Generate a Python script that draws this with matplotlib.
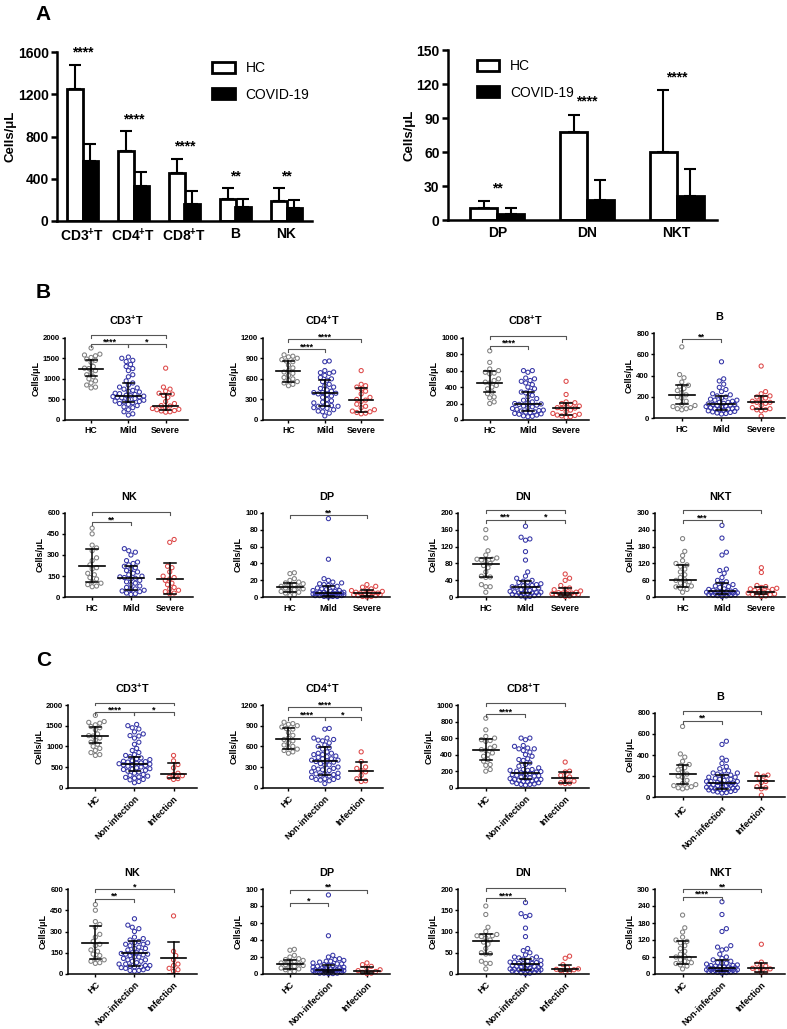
import numpy as np
import matplotlib
matplotlib.use("Agg")
import matplotlib.pyplot as plt
from matplotlib.patches import Patch

plt.rcParams['font.family'] = ['Liberation Sans', 'DejaVu Sans']
plt.rcParams['font.weight'] = 'bold'
plt.rcParams['axes.labelweight'] = 'bold'
plt.rcParams['axes.titleweight'] = 'bold'
plt.rcParams['mathtext.fontset'] = 'custom'
plt.rcParams['mathtext.rm'] = 'Liberation Sans:bold'
plt.rcParams['mathtext.default'] = 'rm'

# ---------------- panel A data (mean, SD) ----------------
a_cells = ['CD3$^{+}$T', 'CD4$^{+}$T', 'CD8$^{+}$T', 'B', 'NK']
a_hc_mean = [1250, 660, 450, 210, 190]
a_hc_sd = [230, 190, 140, 100, 125]
a_cov_mean = [565, 335, 165, 130, 120]
a_cov_sd = [160, 130, 120, 80, 75]
a_stars = ['****', '****', '****', '**', '**']

a2_cells = ['DP', 'DN', 'NKT']
a2_hc_mean = [11, 78, 60]
a2_hc_sd = [6, 15, 55]
a2_cov_mean = [5, 17.5, 21]
a2_cov_sd = [5.5, 17.5, 24]
a2_stars = ['**', '****', '****']

# ---------------- panels B / C data ----------------
cell_types = ['CD3', 'CD4', 'CD8', 'B', 'NK', 'DP', 'DN', 'NKT']
titles = ['CD3$^{+}$T', 'CD4$^{+}$T', 'CD8$^{+}$T', 'B', 'NK', 'DP', 'DN', 'NKT']
b_groups = ['HC', 'Mild', 'Severe']
c_groups = ['HC', 'Non-infection', 'Infection']
b_ymax = [2000, 1200, 1000, 800, 600, 100, 200, 300]
b_ystep = [500, 300, 200, 200, 150, 20, 40, 60]
c_ymax = [2000, 1200, 1000, 800, 600, 100, 200, 300]
c_ystep = [500, 300, 200, 200, 150, 20, 50, 60]

hc = {
    'CD3': [1750, 1600, 1580, 1560, 1520, 1480, 1450, 1400, 1300, 1260, 1250, 1200,
            1150, 1100, 1050, 1000, 950, 900, 850, 800, 780],
    'CD4': [950, 930, 920, 900, 880, 860, 850, 800, 760, 720, 700, 680, 650, 620,
            600, 580, 560, 540, 520, 500],
    'CD8': [840, 700, 620, 600, 580, 570, 560, 500, 480, 460, 450, 420, 400, 380,
            340, 320, 280, 270, 220, 200],
    'B': [670, 410, 380, 340, 310, 300, 280, 260, 240, 220, 200, 190, 160, 130, 120,
          110, 100, 90, 90, 80],
    'NK': [490, 450, 370, 350, 330, 280, 260, 230, 210, 200, 170, 160, 140, 130, 110,
           100, 90, 80, 75],
    'DP': [29, 28, 22, 20, 18, 17, 16, 15, 14, 13, 12, 11, 10, 9, 8, 7, 6, 5, 3, 2],
    'DN': [160, 140, 110, 100, 93, 90, 90, 88, 85, 80, 75, 70, 60, 50, 48, 47, 30,
           25, 25, 12],
    'NKT': [208, 163, 148, 130, 120, 115, 110, 100, 90, 80, 70, 62, 60, 55, 50, 45,
            40, 37, 32, 28, 18],
}
mild = {
    'CD3': [1530, 1500, 1450, 1420, 1350, 1300, 1250, 1200, 1100, 1050, 950, 900, 850,
            800, 780, 750, 720, 700, 680, 650, 640, 620, 600, 590, 580, 570, 560, 550,
            540, 520, 500, 480, 460, 450, 440, 420, 400, 380, 350, 320, 300, 250, 200,
            150, 120],
    'CD4': [860, 850, 720, 700, 690, 680, 650, 620, 600, 580, 560, 520, 500, 480, 460,
            440, 420, 400, 400, 390, 380, 370, 350, 330, 300, 280, 260, 250, 230, 210,
            200, 200, 190, 180, 170, 150, 130, 120, 100, 60],
    'CD8': [600, 600, 580, 510, 500, 480, 470, 450, 430, 400, 380, 350, 340, 330, 300,
            280, 260, 240, 220, 210, 200, 195, 190, 180, 170, 160, 150, 140, 130, 120,
            115, 110, 100, 95, 90, 80, 75, 70, 60, 50, 45, 40],
    'B': [530, 370, 350, 320, 290, 270, 250, 230, 220, 210, 200, 190, 180, 170, 170,
          160, 150, 150, 140, 135, 130, 130, 125, 120, 115, 110, 110, 100, 95, 90, 90,
          85, 80, 75, 70, 65, 60, 55, 50, 45, 40],
    'NK': [345, 330, 320, 300, 260, 250, 240, 230, 220, 210, 200, 190, 180, 170, 160,
           150, 145, 140, 135, 130, 120, 110, 100, 90, 80, 70, 60, 55, 50, 45, 40, 30,
           25, 20],
    'DP': [93, 45, 22, 20, 18, 17, 16, 15, 14, 13, 12, 11, 10, 9, 8, 8, 7, 7, 6, 6, 6,
           5, 5, 5, 5, 4, 4, 4, 4, 3, 3, 3, 3, 2, 2, 2, 2, 1, 1, 1, 0.5],
    'DN': [168, 142, 138, 135, 108, 88, 60, 50, 45, 40, 38, 36, 35, 32, 30, 28, 27, 25,
           25, 24, 22, 20, 18, 16, 15, 14, 13, 12, 11, 10, 10, 9, 8, 7, 6, 5, 4, 3, 2, 1],
    'NKT': [255, 210, 160, 150, 100, 95, 85, 70, 60, 55, 50, 45, 40, 38, 35, 30, 28, 25,
            24, 22, 22, 20, 20, 18, 17, 16, 15, 14, 13, 12, 12, 10, 9, 8, 7, 6, 5, 3],
}
severe = {
    'CD3': [1260, 800, 750, 700, 650, 630, 600, 550, 450, 400, 350, 340, 300, 280, 260,
            250, 230, 220, 200, 190],
    'CD4': [720, 520, 500, 480, 450, 420, 380, 330, 300, 290, 270, 230, 200, 180, 150,
            130, 120, 110, 100, 90],
    'CD8': [470, 310, 220, 210, 200, 190, 170, 160, 150, 145, 140, 120, 100, 80, 70, 60,
            55, 50, 40, 30],
    'B': [490, 250, 230, 210, 200, 190, 180, 160, 150, 150, 140, 120, 100, 90, 80, 80,
          70, 20],
    'NK': [410, 390, 220, 210, 180, 150, 140, 130, 120, 100, 90, 70, 60, 50, 40, 30, 25],
    'DP': [15, 13, 12, 10, 9, 8, 7, 6, 5, 5, 5, 4, 4, 3, 3, 2, 2, 1, 1, 0.5],
    'DN': [55, 45, 40, 28, 22, 20, 18, 15, 12, 11, 10, 10, 9, 8, 7, 6, 5, 4, 3, 2],
    'NKT': [105, 88, 42, 38, 35, 32, 30, 28, 25, 22, 20, 18, 15, 12, 10, 9, 8, 5, 3],
}
noninf = {
    'CD3': [1530, 1500, 1450, 1420, 1350, 1300, 1260, 1250, 1200, 1100, 1050, 950, 900,
            850, 800, 780, 750, 720, 700, 680, 650, 640, 630, 620, 600, 590, 580, 570,
            560, 550, 540, 520, 500, 480, 460, 450, 440, 420, 400, 380, 350, 320, 300,
            280, 260, 250, 230, 200, 190, 150, 120],
    'CD4': [860, 850, 720, 720, 700, 690, 680, 650, 620, 600, 580, 560, 520, 500, 500,
            480, 480, 460, 450, 440, 420, 420, 400, 400, 390, 380, 370, 350, 330, 330,
            300, 290, 280, 270, 260, 250, 230, 210, 200, 200, 190, 180, 170, 150, 150,
            130, 120, 120, 110, 100, 60],
    'CD8': [600, 600, 580, 510, 500, 480, 470, 470, 450, 430, 400, 380, 350, 340, 330,
            300, 280, 260, 240, 220, 220, 210, 210, 200, 195, 190, 180, 170, 170, 160,
            150, 145, 140, 130, 120, 115, 110, 100, 100, 95, 90, 80, 75, 70, 70, 60, 50,
            45, 40, 40, 30],
    'B': [530, 500, 370, 350, 320, 290, 270, 250, 250, 230, 230, 220, 210, 210, 200,
          190, 190, 180, 170, 170, 160, 150, 150, 150, 140, 135, 130, 130, 125, 120, 120,
          115, 110, 110, 100, 95, 90, 90, 85, 80, 80, 75, 70, 70, 65, 60, 55, 50, 45, 40],
    'NK': [390, 345, 330, 320, 300, 260, 250, 240, 230, 220, 220, 210, 210, 200, 190,
           180, 180, 170, 160, 150, 150, 145, 140, 140, 135, 130, 120, 120, 110, 100,
           100, 90, 90, 80, 70, 70, 60, 60, 55, 50, 50, 45, 40, 40, 30, 25, 25, 20],
    'DP': [93, 45, 22, 20, 18, 17, 16, 15, 15, 14, 13, 12, 12, 11, 10, 10, 9, 8, 8, 7,
           7, 6, 6, 6, 5, 5, 5, 5, 5, 4, 4, 4, 4, 3, 3, 3, 3, 2, 2, 2, 2, 1, 1, 1, 0.5,
           0.5],
    'DN': [168, 142, 138, 135, 108, 88, 60, 55, 50, 45, 40, 40, 38, 36, 35, 32, 30, 28,
           28, 27, 25, 25, 24, 22, 20, 20, 18, 18, 16, 15, 14, 13, 12, 11, 10, 10, 10, 9,
           9, 8, 7, 6, 5, 4, 3, 2, 1],
    'NKT': [255, 210, 160, 150, 100, 95, 88, 85, 70, 60, 55, 50, 45, 40, 38, 38, 35, 32,
            30, 30, 28, 25, 25, 24, 22, 22, 20, 20, 18, 17, 16, 15, 15, 14, 13, 12, 12,
            10, 10, 9, 9, 8, 7, 6, 5, 3],
}
infection = {
    'CD3': [780, 650, 560, 480, 350, 320, 290, 250, 220, 200],
    'CD4': [520, 380, 300, 280, 250, 230, 180, 130, 100, 90],
    'CD8': [310, 200, 190, 150, 130, 110, 80, 60, 55, 50],
    'B': [220, 210, 200, 180, 150, 140, 100, 90, 80, 20],
    'NK': [410, 160, 130, 100, 70, 60, 40, 30, 20],
    'DP': [13, 11, 9, 7, 5, 4, 3, 2, 1, 0.5],
    'DN': [42, 37, 22, 15, 12, 11, 10, 8, 6, 5],
    'NKT': [105, 42, 35, 28, 22, 20, 18, 12, 8, 5],
}

# median, Q1, Q3
hc_stats = {'CD3': (1250, 1070, 1470), 'CD4': (710, 560, 860), 'CD8': (455, 340, 590),
            'B': (220, 130, 310), 'NK': (222, 105, 340), 'DP': (12, 6, 17),
            'DN': (78, 47, 93), 'NKT': (60, 37, 115)}
mild_stats = {'CD3': (580, 440, 890), 'CD4': (390, 200, 590), 'CD8': (190, 110, 340),
              'B': (135, 80, 210), 'NK': (140, 55, 225), 'DP': (5, 2, 13),
              'DN': (25, 10, 38), 'NKT': (22, 12, 50)}
severe_stats = {'CD3': (340, 240, 640), 'CD4': (290, 120, 470), 'CD8': (145, 60, 210),
                'B': (150, 90, 210), 'NK': (132, 25, 240), 'DP': (5, 2, 9),
                'DN': (10, 6, 22), 'NKT': (20, 10, 35)}
noninf_stats = {'CD3': (575, 400, 740), 'CD4': (390, 185, 590), 'CD8': (180, 100, 300),
                'B': (135, 75, 210), 'NK': (145, 55, 235), 'DP': (5, 2, 11),
                'DN': (24, 10, 36), 'NKT': (22, 12, 48)}
inf_stats = {'CD3': (330, 240, 600), 'CD4': (240, 110, 370), 'CD8': (120, 60, 190),
             'B': (150, 90, 205), 'NK': (115, 0, 228), 'DP': (4, 1, 8),
             'DN': (12, 8, 22), 'NKT': (20, 8, 38)}

# significance brackets: (group i, group j, label, height as fraction of ymax)
b_comp = {
    'CD3': [(0, 1, '****', 0.92), (1, 2, '*', 0.92), (0, 2, '****', 1.03)],
    'CD4': [(0, 1, '****', 0.86), (0, 2, '****', 0.98)],
    'CD8': [(0, 1, '****', 0.90), (0, 2, '****', 1.02)],
    'B': [(0, 1, '**', 0.93)],
    'NK': [(0, 1, '**', 0.89), (0, 2, '*', 1.01)],
    'DP': [(0, 2, '**', 0.97)],
    'DN': [(0, 1, '***', 0.915), (1, 2, '*', 0.915), (0, 2, '****', 1.03)],
    'NKT': [(0, 1, '***', 0.91), (0, 2, '****', 1.03)],
}
c_comp = {
    'CD3': [(0, 1, '****', 0.91), (1, 2, '*', 0.91), (0, 2, '****', 1.03)],
    'CD4': [(0, 1, '****', 0.85), (1, 2, '*', 0.85), (0, 2, '****', 0.97)],
    'CD8': [(0, 1, '****', 0.89), (0, 2, '****', 1.02)],
    'B': [(0, 1, '**', 0.905), (0, 2, '*', 1.02)],
    'NK': [(0, 1, '**', 0.885), (0, 2, '*', 1.0)],
    'DP': [(0, 1, '*', 0.83), (0, 2, '**', 0.99)],
    'DN': [(0, 1, '****', 0.89), (0, 2, '****', 1.01)],
    'NKT': [(0, 1, '****', 0.91), (0, 2, '**', 1.0)],
}

dot_colors = ['#808080', '#3434a6', '#dd4848']
W, H = 787, 1029
fig = plt.figure(figsize=(W / 100, H / 100), dpi=100)


def add_ax(l, t, r, b):
    return fig.add_axes([l / W, 1 - b / H, (r - l) / W, (b - t) / H])


def swarm(vals, ymax, h_px, sp_px, d_px=4.4, cap=0.42):
    # simple beeswarm: place each point as close to the centre as it can go
    vals = np.asarray(vals, float)
    xs = np.zeros(len(vals))
    placed = []
    max_off = cap * sp_px
    cands = [0.0]
    step = d_px * 0.5
    k = 1
    while k * step <= max_off:
        cands += [k * step, -k * step]
        k += 1
    for i in np.argsort(vals):
        y = vals[i] / ymax * h_px
        best, best_d = 0.0, -1
        for off in cands:
            dmin = min([np.hypot(off - px, y - py) for px, py in placed] or [99])
            if dmin >= d_px:
                best = off
                break
            if dmin > best_d:
                best, best_d = off, dmin
        placed.append((best, y))
        xs[i] = best / sp_px
    return xs


def dot_panel(ax, groups, data_list, stats_list, ymax, ystep, comps, title, rotate, h_px, w_px):
    xlim = (-0.7, 2.6)
    sp = w_px / (xlim[1] - xlim[0])
    for g, (vals, st) in enumerate(zip(data_list, stats_list)):
        xs = swarm(vals, ymax, h_px, sp)
        ax.scatter(g + xs, vals, s=9, facecolors='none', edgecolors=dot_colors[g],
                   linewidths=0.75, zorder=2, clip_on=False)
        med, q1, q3 = st
        ax.plot([g - 0.33, g + 0.33], [med, med], color='black', lw=1.2, zorder=3)
        ax.plot([g, g], [q1, q3], color='black', lw=1.1, zorder=3)
        ax.plot([g - 0.15, g + 0.15], [q1, q1], color='black', lw=1.1, zorder=3)
        ax.plot([g - 0.15, g + 0.15], [q3, q3], color='black', lw=1.1, zorder=3)
    for i, j, txt, lev in comps:
        y = lev * ymax
        t = 0.035 * ymax
        ax.plot([i, i, j, j], [y - t, y, y, y - t], color='#555555', lw=0.8, clip_on=False)
        ax.annotate(txt, ((i + j) / 2, y), xytext=(0, -1.5), textcoords='offset points',
                    ha='center', va='bottom', fontsize=6.5, fontweight='bold')
    ax.set_xlim(*xlim)
    ax.set_ylim(0, ymax)
    ax.set_yticks(np.arange(0, ymax + 1, ystep))
    ax.set_xticks(range(3))
    if rotate:
        ax.set_xticklabels(groups, rotation=45, ha='right', rotation_mode='anchor', fontsize=6.5)
    else:
        ax.set_xticklabels(groups, fontsize=6.3)
    ax.tick_params(axis='y', labelsize=5.6, length=2.5, width=1, pad=1)
    ax.tick_params(axis='x', length=2.5, width=1, pad=2)
    for s in ['top', 'right']:
        ax.spines[s].set_visible(False)
    for s in ['left', 'bottom']:
        ax.spines[s].set_linewidth(1.1)
    ax.set_ylabel('Cells/μL', fontsize=6.5, labelpad=2)
    ax.set_title(title, fontsize=7.8, pad=9)


def bar_panel(ax, cells, hm, hs, cm, cs, stars, ymax, ystep, xlim, width, pad, fs_x):
    x = np.arange(len(cells))
    ax.bar(x - width / 2, hm, width, color='white', edgecolor='black', lw=2, zorder=2)
    ax.bar(x + width / 2, cm, width, color='black', edgecolor='black', lw=2, zorder=2)
    ax.errorbar(x - width / 2, hm, yerr=[np.zeros(len(x)), hs], fmt='none', ecolor='black',
                elinewidth=1.5, capsize=4.5, capthick=1.5, zorder=1)
    ax.errorbar(x + width / 2, cm, yerr=[np.zeros(len(x)), cs], fmt='none', ecolor='black',
                elinewidth=1.5, capsize=4.5, capthick=1.5, zorder=1)
    tops = np.maximum(np.array(hm) + np.array(hs), np.array(cm) + np.array(cs))
    for xi, top, st in zip(x, tops, stars):
        ax.text(xi, top + pad, st, ha='center', va='bottom', fontsize=10, fontweight='bold')
    ax.set_xlim(*xlim)
    ax.set_ylim(0, ymax)
    ax.set_yticks(np.arange(0, ymax + 1, ystep))
    ax.set_xticks(x)
    ax.set_xticklabels(cells, fontsize=fs_x)
    ax.tick_params(axis='y', labelsize=10, length=4, width=1.8, pad=2)
    ax.tick_params(axis='x', length=0, pad=4)
    for s in ['top', 'right']:
        ax.spines[s].set_visible(False)
    for s in ['left', 'bottom']:
        ax.spines[s].set_linewidth(1.8)
    ax.set_ylabel('Cells/μL', fontsize=9.5, labelpad=1)
    handles = [Patch(facecolor='white', edgecolor='black', lw=2, label='HC'),
               Patch(facecolor='black', edgecolor='black', lw=2, label='COVID-19')]
    return handles


# ---------------- Panel A ----------------
axA1 = add_ax(57, 52, 312, 221)
h = bar_panel(axA1, a_cells, a_hc_mean, a_hc_sd, a_cov_mean, a_cov_sd, a_stars,
              1600, 400, (-0.5, 4.5), 0.31, 45, 10)
axA1.legend(handles=h, loc='upper left', bbox_to_anchor=(0.56, 1.02), frameon=False,
            prop={'size': 10, 'weight': 'normal'}, handlelength=1.6, handleheight=0.8,
            labelspacing=0.9, handletextpad=0.8)

axA2 = add_ax(448, 50, 717, 220)
h = bar_panel(axA2, a2_cells, a2_hc_mean, a2_hc_sd, a2_cov_mean, a2_cov_sd, a2_stars,
              150, 30, (-0.55, 2.45), 0.3, 5, 10)
axA2.legend(handles=h, loc='upper left', bbox_to_anchor=(0.06, 1.02), frameon=False,
            prop={'size': 10, 'weight': 'normal'}, handlelength=1.6, handleheight=0.8,
            labelspacing=0.9, handletextpad=0.8)

# ---------------- Panels B and C ----------------
b_geom = [(65, 337.7, 188, 420), (263, 337.7, 383, 420), (463, 337.7, 589, 420), (654, 333, 785, 418.3),
          (65, 512.7, 193, 597.3), (263, 512.7, 390, 597.3), (458, 512.7, 589, 597.3), (655, 512.7, 785, 597.3)]
c_geom = [(68, 705, 197, 787.7), (263, 705, 383, 787.7), (458, 705, 589, 787.7), (655, 712.7, 785, 797.3),
          (68, 889, 197, 974), (263, 889, 390, 974), (458, 889, 589, 974), (655, 889, 785, 974)]

for k, ct in enumerate(cell_types):
    l, t, r, b = b_geom[k]
    ax = add_ax(l, t, r, b)
    dot_panel(ax, b_groups, [hc[ct], mild[ct], severe[ct]],
              [hc_stats[ct], mild_stats[ct], severe_stats[ct]],
              b_ymax[k], b_ystep[k], b_comp[ct], titles[k], False, b - t, r - l)
    l, t, r, b = c_geom[k]
    ax = add_ax(l, t, r, b)
    dot_panel(ax, c_groups, [hc[ct], noninf[ct], infection[ct]],
              [hc_stats[ct], noninf_stats[ct], inf_stats[ct]],
              c_ymax[k], c_ystep[k], c_comp[ct], titles[k], True, b - t, r - l)

fig.text(35 / W, 1 - 14 / H, 'A', fontsize=15, fontweight='bold', va='center')
fig.text(36 / W, 1 - 292 / H, 'B', fontsize=15, fontweight='bold', va='center')
fig.text(36 / W, 1 - 660 / H, 'C', fontsize=15, fontweight='bold', va='center')

fig.savefig('out.png', dpi=100)
